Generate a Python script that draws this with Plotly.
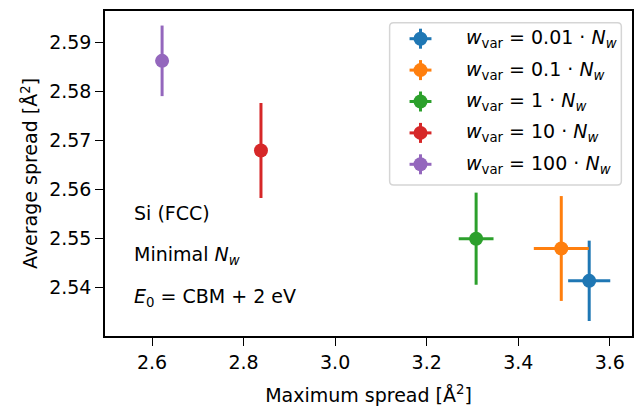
import plotly.graph_objects as go

# ---- data ----
w_labels = ["0.01", "0.1", "1", "10", "100"]
max_spread = [3.555, 3.494, 3.308, 2.838, 2.622]
max_spread_err = [0.046, 0.060, 0.038, 0.005, 0.005]
avg_spread = [2.5414, 2.5480, 2.5500, 2.5680, 2.5863]
avg_spread_err = [0.0082, 0.0107, 0.0094, 0.0097, 0.0072]
colors = ["#1f77b4", "#ff7f0e", "#2ca02c", "#d62728", "#9467bd"]
x_ticks = [2.6, 2.8, 3.0, 3.2, 3.4, 3.6]
y_ticks = [2.54, 2.55, 2.56, 2.57, 2.58, 2.59]
info_lines = ["Si (FCC)", "Minimal <i>N</i><sub><i>w</i></sub>",
              "<i>E</i><sub>0</sub> = CBM + 2 eV"]

FONT = "DejaVu Sans"
FS = 19

W, H = 641, 410
L, R, T, B = 105, 634, 11, 336  # plot area in pixels


def px(xp):
    return (xp - L) / (R - L)


def py(yp):
    return (B - yp) / (B - T)


fig = go.Figure()
for lab, x, xe, y, ye, c in zip(w_labels, max_spread, max_spread_err,
                                 avg_spread, avg_spread_err, colors):
    fig.add_trace(go.Scatter(
        x=[x], y=[y], mode="markers",
        marker=dict(color=c, size=14, line=dict(width=0)),
        error_x=dict(type="data", array=[xe], color=c, thickness=3, width=0),
        error_y=dict(type="data", array=[ye], color=c, thickness=3, width=0),
        name=lab, showlegend=False,
    ))

shapes = []
annotations = []

# legend box (rounded)
lx0, lx1, ly0, ly1, rr = 390.7, 623.3, 22.7, 185.0, 4
path = (f"M {px(lx0+rr)} {py(ly0)} L {px(lx1-rr)} {py(ly0)} "
        f"Q {px(lx1)} {py(ly0)} {px(lx1)} {py(ly0+rr)} "
        f"L {px(lx1)} {py(ly1-rr)} Q {px(lx1)} {py(ly1)} {px(lx1-rr)} {py(ly1)} "
        f"L {px(lx0+rr)} {py(ly1)} Q {px(lx0)} {py(ly1)} {px(lx0)} {py(ly1-rr)} "
        f"L {px(lx0)} {py(ly0+rr)} Q {px(lx0)} {py(ly0)} {px(lx0+rr)} {py(ly0)} Z")
shapes.append(dict(type="path", xref="paper", yref="paper", path=path,
                   line=dict(color="#d5d5d5", width=1.5), fillcolor="white",
                   layer="above"))

gx = 421.7
for k, (lab, c) in enumerate(zip(w_labels, colors)):
    gy = 38.7 + 31.4 * k
    shapes.append(dict(type="line", xref="paper", yref="paper",
                       x0=px(gx - 11), x1=px(gx + 11), y0=py(gy), y1=py(gy),
                       line=dict(color=c, width=3), layer="above"))
    shapes.append(dict(type="line", xref="paper", yref="paper",
                       x0=px(gx), x1=px(gx), y0=py(gy - 10), y1=py(gy + 10),
                       line=dict(color=c, width=3), layer="above"))
    shapes.append(dict(type="circle", xref="paper", yref="paper",
                       x0=px(gx - 7), x1=px(gx + 7), y0=py(gy - 7), y1=py(gy + 7),
                       line=dict(width=0), fillcolor=c, layer="above"))
    annotations.append(dict(
        xref="paper", yref="paper", x=px(465), y=py(gy),
        xanchor="left", yanchor="middle", showarrow=False,
        text=f"<i>w</i><sub>var</sub> = {lab} · <i>N</i><sub><i>w</i></sub>",
        font=dict(family=FONT, size=FS, color="black")))

for k, t in enumerate(info_lines):
    yy = 213.0 + 42.0 * k
    annotations.append(dict(
        xref="paper", yref="paper", x=px(132.3), y=py(yy),
        xanchor="left", yanchor="middle", showarrow=False, text=t,
        font=dict(family=FONT, size=FS, color="black")))

axis_common = dict(showline=True, mirror=True, linecolor="black", linewidth=1.5,
                   ticks="outside", ticklen=8, tickwidth=1.3, tickcolor="black",
                   showgrid=False, zeroline=False,
                   tickfont=dict(family=FONT, size=FS, color="black"))

fig.update_layout(
    width=W, height=H, autosize=False,
    margin=dict(l=L, r=W - R, t=T, b=H - B, pad=0),
    paper_bgcolor="white", plot_bgcolor="white",
    font=dict(family=FONT, size=FS, color="black"),
    xaxis=dict(range=[2.4973, 3.6485], tickvals=x_ticks, tickformat=".1f",
               title=dict(text="Maximum spread [Å<sup>2</sup>]", standoff=17,
                          font=dict(family=FONT, size=FS)),
               **axis_common),
    yaxis=dict(range=[2.53014, 2.59647], tickvals=y_ticks, tickformat=".2f",
               title=dict(text="Average spread [Å<sup>2</sup>]", standoff=6,
                          font=dict(family=FONT, size=FS)),
               **axis_common),
    shapes=shapes, annotations=annotations,
)

fig.write_html("out.html")
